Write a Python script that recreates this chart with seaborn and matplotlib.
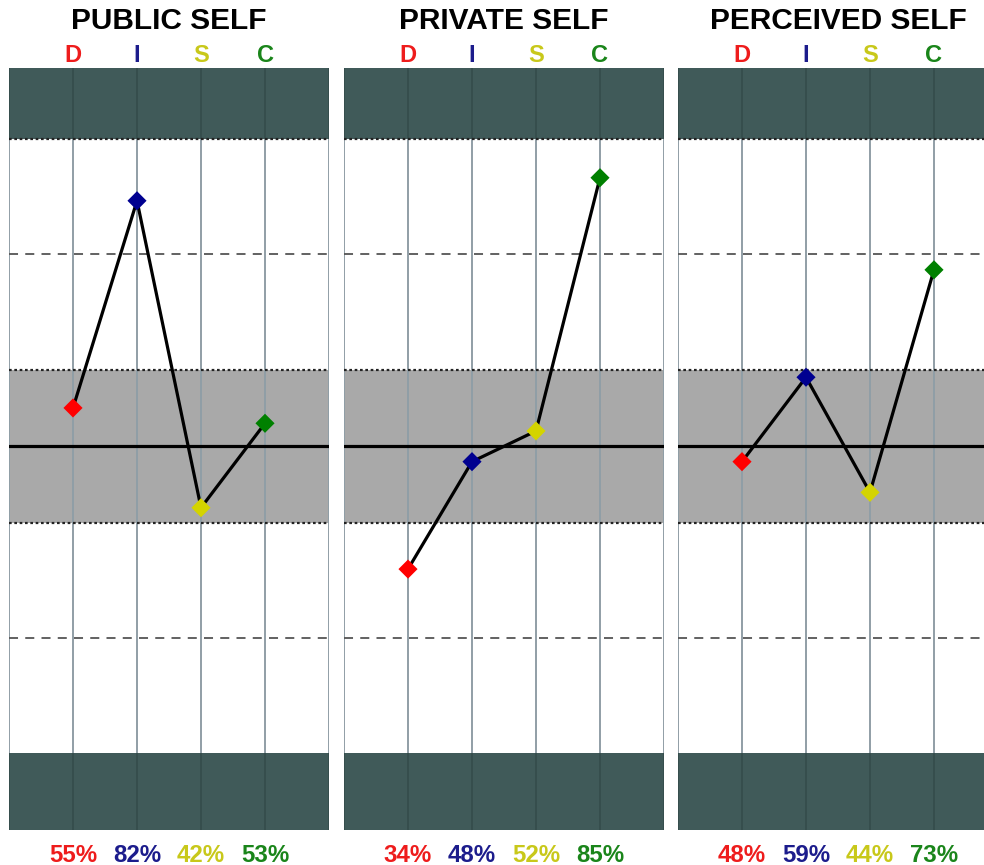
import matplotlib
matplotlib.use('Agg')
import matplotlib.pyplot as plt
import seaborn as sns
import pandas as pd

sns.set_style('white')
plt.rcParams['font.family'] = ['Liberation Sans', 'DejaVu Sans']

# data
titles = ['PUBLIC SELF', 'PRIVATE SELF', 'PERCEIVED SELF']
letters = ['D', 'I', 'S', 'C']
public_self = [55, 82, 42, 53]
private_self = [34, 48, 52, 85]
perceived_self = [48, 59, 44, 73]
panels = [public_self, private_self, perceived_self]

letter_colors = ['#ee1c1c', '#1c1c8c', '#c8c81a', '#1a851a']
marker_colors = ['#ff0000', '#000090', '#d4d400', '#008000']

# styles
DARK = '#405a59'
GRAY = '#a9a9a9'
GRID = '#909ea6'

W, H = 984, 865
fig = plt.figure(figsize=(W / 100, H / 100), dpi=100)
lefts = [9, 344, 678]
top_px, bottom_px = 68, 830
YMAX = 99.3

for left, title, values in zip(lefts, titles, panels):
    ax = fig.add_axes([left / W, (H - bottom_px) / H, 320 / W, (bottom_px - top_px) / H])

    # bands
    ax.axhspan(90, YMAX, color=DARK, lw=0, zorder=0)
    ax.axhspan(0, 10, color=DARK, lw=0, zorder=0)
    ax.axhspan(40, 60, color=GRAY, lw=0, zorder=0)

    # vertical grid
    xs = [0, 1, 2, 3, 4, 5]
    ax.vlines(xs, 10, 90, color=GRID, lw=1.4, zorder=1)
    ax.vlines(xs, 90, YMAX, color='#354c4b', lw=1.2, zorder=1)
    ax.vlines(xs, 0, 10, color='#354c4b', lw=1.2, zorder=1)

    # horizontal guides
    for yv in [40, 60, 90]:
        ax.axhline(yv, color='#222222', lw=1.6, ls=(0, (1.2, 1.2)), zorder=2)
    for yv in [25, 75]:
        ax.axhline(yv, color='#555555', lw=1.3, ls=(0, (5, 4)), zorder=2)
    ax.axhline(50, color='black', lw=2.3, zorder=2)

    df = pd.DataFrame({'pos': [1, 2, 3, 4], 'val': values, 'letter': letters})
    sns.lineplot(data=df, x='pos', y='val', color='black', lw=2.3, ax=ax, zorder=3, sort=False)
    sns.scatterplot(data=df, x='pos', y='val', hue='letter', palette=marker_colors,
                    marker='D', s=95, linewidth=0, legend=False, ax=ax, zorder=4)

    ax.set_xlim(0, 5)
    ax.set_ylim(0, YMAX)
    ax.set_xlabel('')
    ax.set_ylabel('')
    ax.set_xticks([])
    ax.set_yticks([])
    for sp in ax.spines.values():
        sp.set_visible(False)

    tr = ax.get_xaxis_transform()
    ax.text(2.5, 1.062, title, transform=tr, ha='center', va='center',
            fontsize=21.5, fontweight='bold', color='black')
    for i, (lt, v) in enumerate(zip(letters, values)):
        ax.text(i + 1, 1.017, lt, transform=tr, ha='center', va='center',
                fontsize=17, fontweight='bold', color=letter_colors[i])
        ax.text(i + 1, -0.033, f'{v}%', transform=tr, ha='center', va='center',
                fontsize=17.3, fontweight='bold', color=letter_colors[i])

fig.savefig('out.png', dpi=100, facecolor='white')
